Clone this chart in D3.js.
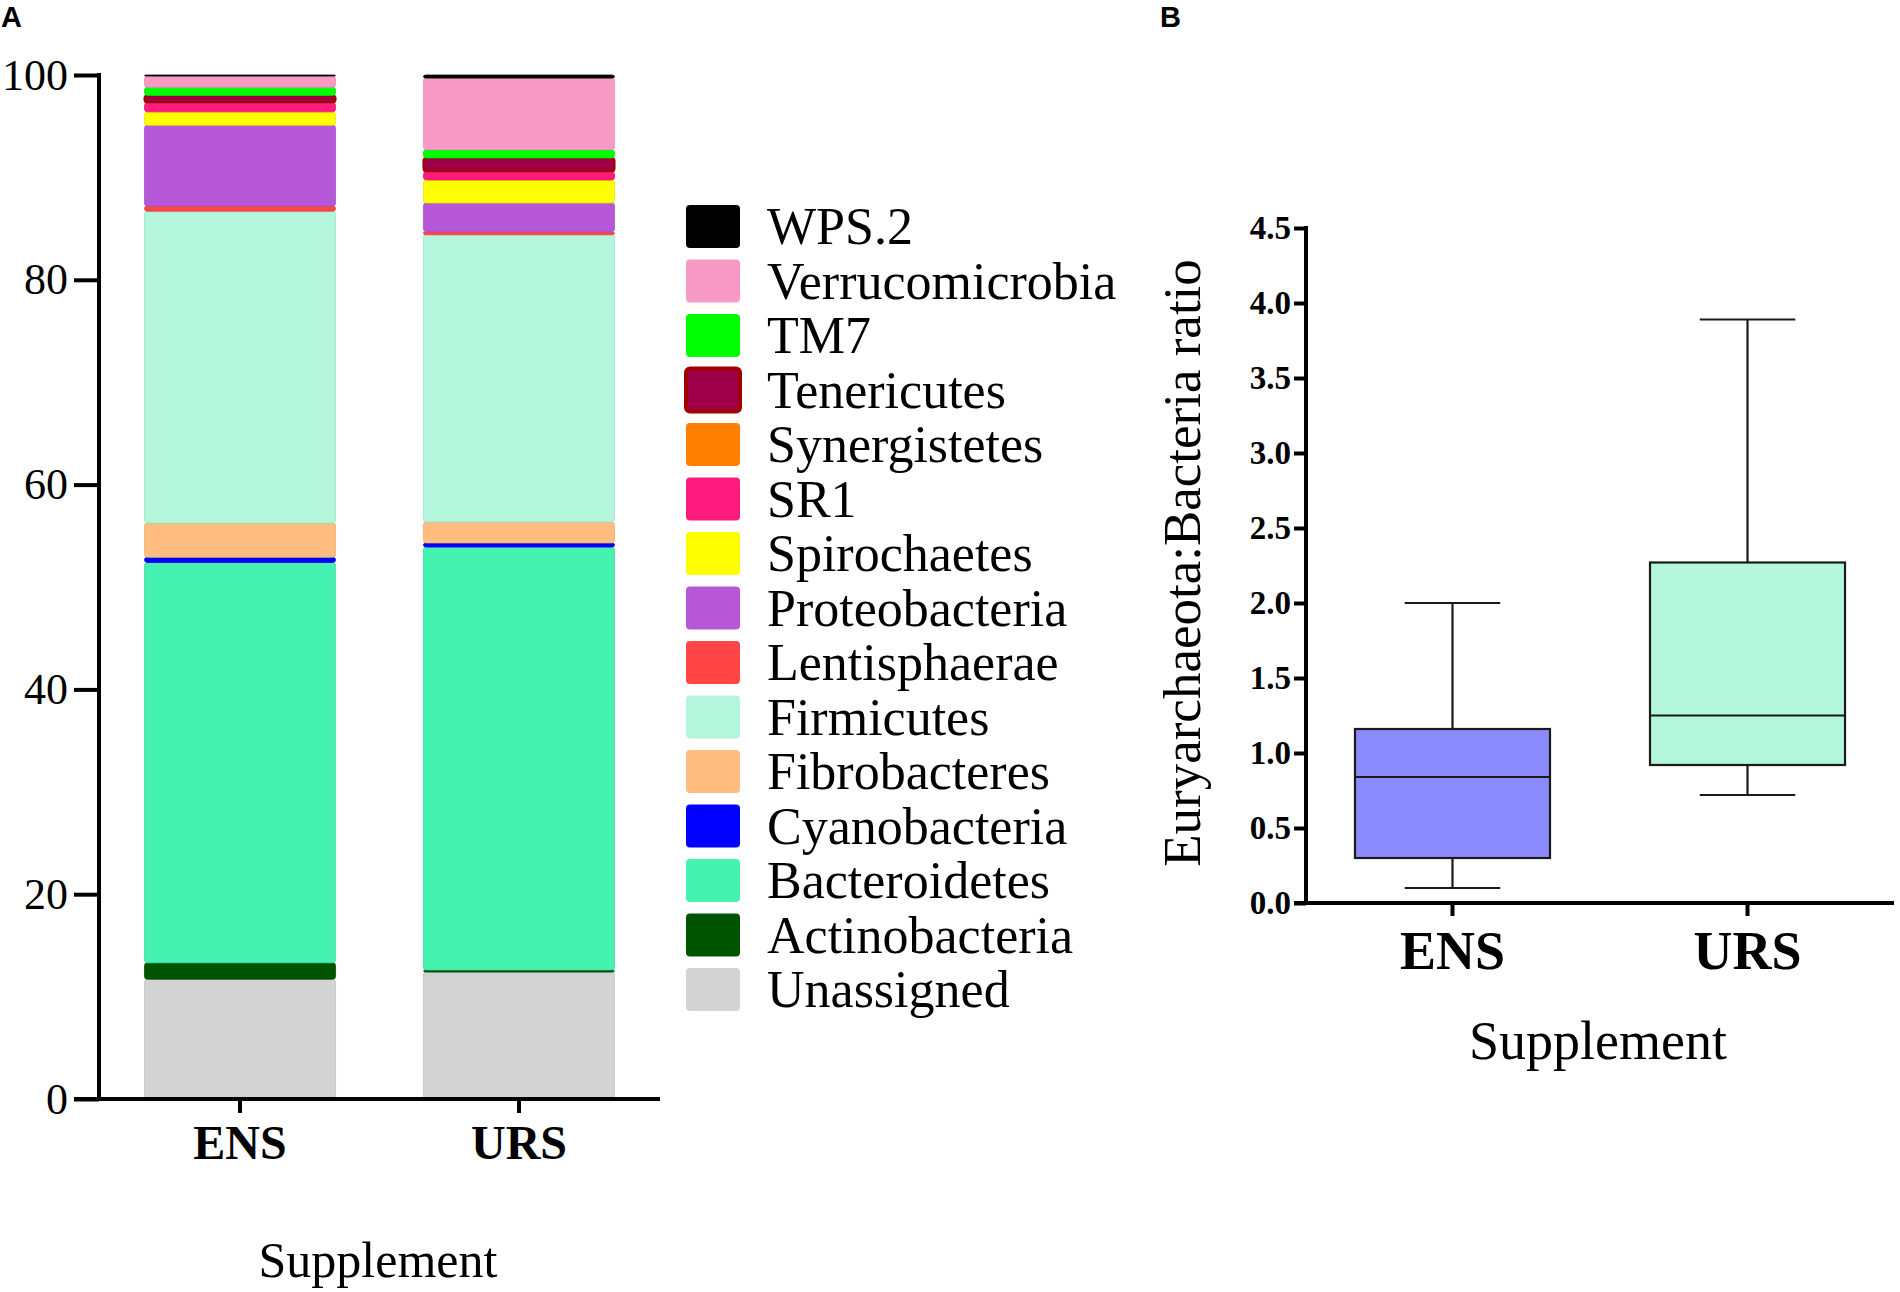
<!DOCTYPE html>
<html>
<head>
<meta charset="utf-8">
<script src="https://cdn.jsdelivr.net/npm/d3@7.9.0/dist/d3.min.js"></script>
<style>
  body { margin: 0; background: #fff; }
  svg { display: block; }
</style>
</head>
<body>
<svg id="chart" width="1900" height="1292"></svg>
<script>
// panel A: stacked relative abundance (stack order, bottom to top)
const phyla = ['Unassigned', 'Actinobacteria', 'Bacteroidetes', 'Cyanobacteria', 'Fibrobacteres',
  'Firmicutes', 'Lentisphaerae', 'Proteobacteria', 'Spirochaetes', 'SR1', 'Synergistetes',
  'Tenericutes', 'TM7', 'Verrucomicrobia', 'WPS.2'];
const phylumColors = ['#d3d3d3', '#005400', '#45f2b0', '#0000ff', '#ffbe80',
  '#b3f6dc', '#ff4545', '#b657d7', '#ffff00', '#ff1a7d', '#ff8000',
  '#9e0048', '#00ff00', '#f89ac6', '#000000'];
const supplements = ['ENS', 'URS'];
const ensValues = [11.7, 1.6, 39.1, 0.5, 3.35, 30.45, 0.5, 7.9, 1.3, 0.9, 0.05, 0.65, 0.8, 1.1, 0.1];
const ursValues = [12.4, 0.2, 41.3, 0.4, 2.05, 28.05, 0.3, 2.8, 2.25, 0.8, 0.05, 1.3, 0.8, 7.0, 0.3];
const abundanceTicks = [0, 20, 40, 60, 80, 100];

// panel B: Euryarchaeota:Bacteria ratio box plots
const boxGroups = ['ENS', 'URS'];
const whiskerLow = [0.10, 0.72];
const q1 = [0.30, 0.92];
const median = [0.84, 1.25];
const q3 = [1.16, 2.27];
const whiskerHigh = [2.0, 3.89];
const boxColors = ['#8b8bfd', '#b3f6dc'];
const ratioTicks = [0, 0.5, 1, 1.5, 2, 2.5, 3, 3.5, 4, 4.5];

const svg = d3.select('#chart');
const serif = '"Liberation Serif", "Times New Roman", serif';

// panel letters
svg.append('text').attr('x', 1).attr('y', 27).text('A')
  .style('font-family', '"Liberation Sans", Arial, sans-serif').style('font-weight', 'bold').style('font-size', '29px');
svg.append('text').attr('x', 1160).attr('y', 27).text('B')
  .style('font-family', '"Liberation Sans", Arial, sans-serif').style('font-weight', 'bold').style('font-size', '29px');

// ---------- panel A ----------
const yA = d3.scaleLinear().domain([0, 100]).range([1099, 75]);
const xA = d3.scaleBand().domain(supplements).range([99, 660]).paddingInner(0.315).paddingOuter(0.163);

const rows = supplements.map((s, i) => {
  const row = { supplement: s };
  const vals = i === 0 ? ensValues : ursValues;
  phyla.forEach((p, j) => { row[p] = vals[j]; });
  return row;
});
const series = d3.stack().keys(phyla)(rows);
const colorOf = d3.scaleOrdinal().domain(phyla).range(phylumColors);

const gA = svg.append('g');
series.forEach(s => {
  gA.append('g').selectAll('rect')
    .data(s)
    .join('rect')
    .attr('x', d => xA(d.data.supplement))
    .attr('width', xA.bandwidth())
    .attr('y', d => yA(d[1]))
    .attr('height', d => Math.max(0, yA(d[0]) - yA(d[1])))
    .attr('rx', 3)
    .attr('fill', colorOf(s.key))
    .attr('stroke', s.key === 'Tenericutes' ? '#a00000' : d3.color(colorOf(s.key)).darker(0.25))
    .attr('stroke-width', s.key === 'Tenericutes' ? 2 : 0.8);
});

const axisA = gA.append('g').attr('transform', 'translate(99,0)')
  .call(d3.axisLeft(yA).tickValues(abundanceTicks).tickSize(25).tickPadding(6).tickFormat(d3.format('d')));
axisA.select('.domain').remove();
axisA.selectAll('.tick line').attr('stroke', '#000').attr('stroke-width', 4);
axisA.selectAll('.tick text').style('font-family', serif).style('font-size', '44px').attr('fill', '#000');
gA.append('line').attr('x1', 99).attr('x2', 99).attr('y1', yA(100) - 2).attr('y2', yA(0))
  .attr('stroke', '#000').attr('stroke-width', 4);
gA.append('line').attr('x1', 74).attr('x2', 660).attr('y1', yA(0)).attr('y2', yA(0))
  .attr('stroke', '#000').attr('stroke-width', 4);

const xAxisA = gA.append('g').attr('transform', `translate(0,${yA(0)})`)
  .call(d3.axisBottom(xA).tickSize(14).tickSizeOuter(0));
xAxisA.select('.domain').remove();
xAxisA.selectAll('.tick line').attr('stroke', '#000').attr('stroke-width', 4);
xAxisA.selectAll('.tick text').attr('dy', null).attr('y', 60)
  .style('font-family', serif).style('font-size', '48px').style('font-weight', 'bold').attr('fill', '#000');

gA.append('text').attr('x', 378).attr('y', 1277).attr('text-anchor', 'middle')
  .style('font-family', serif).style('font-size', '50px').text('Supplement');

// legend (top to bottom is reverse stack order)
const legendItems = phyla.slice().reverse();
const legend = svg.append('g').attr('transform', 'translate(686,205)');
legendItems.forEach((p, i) => {
  const row = legend.append('g').attr('transform', `translate(0,${i * 54.5})`);
  row.append('rect').attr('width', 54).attr('height', 43).attr('rx', 4)
    .attr('fill', colorOf(p))
    .attr('stroke', p === 'Tenericutes' ? '#a00000' : 'none')
    .attr('stroke-width', p === 'Tenericutes' ? 4 : 0);
  row.append('text').attr('x', 81).attr('y', 39)
    .style('font-family', serif).style('font-size', '52px').text(p);
});

// ---------- panel B ----------
const yB = d3.scaleLinear().domain([0, 4.5]).range([903, 228]);
const xB = d3.scaleBand().domain(boxGroups).range([1306, 1894]).paddingInner(0.339).paddingOuter(0.166);
const gB = svg.append('g');

boxGroups.forEach((g, i) => {
  const cx = xB(g) + xB.bandwidth() / 2;
  const capHalf = xB.bandwidth() * 0.245;
  const box = gB.append('g').attr('stroke', '#1a1a1a').attr('stroke-width', 2.2);
  box.append('line').attr('x1', cx).attr('x2', cx).attr('y1', yB(whiskerHigh[i])).attr('y2', yB(q3[i]));
  box.append('line').attr('x1', cx).attr('x2', cx).attr('y1', yB(q1[i])).attr('y2', yB(whiskerLow[i]));
  box.append('line').attr('x1', cx - capHalf).attr('x2', cx + capHalf).attr('y1', yB(whiskerHigh[i])).attr('y2', yB(whiskerHigh[i]));
  box.append('line').attr('x1', cx - capHalf).attr('x2', cx + capHalf).attr('y1', yB(whiskerLow[i])).attr('y2', yB(whiskerLow[i]));
  box.append('rect').attr('x', xB(g)).attr('width', xB.bandwidth())
    .attr('y', yB(q3[i])).attr('height', yB(q1[i]) - yB(q3[i]))
    .attr('fill', boxColors[i]);
  box.append('line').attr('x1', xB(g)).attr('x2', xB(g) + xB.bandwidth())
    .attr('y1', yB(median[i])).attr('y2', yB(median[i]));
});

const axisB = gB.append('g').attr('transform', 'translate(1306,0)')
  .call(d3.axisLeft(yB).tickValues(ratioTicks).tickSize(12).tickPadding(3).tickFormat(d3.format('.1f')));
axisB.select('.domain').remove();
axisB.selectAll('.tick line').attr('stroke', '#000').attr('stroke-width', 4);
axisB.selectAll('.tick text').style('font-family', serif).style('font-size', '33px')
  .style('font-weight', 'bold').attr('fill', '#000');
gB.append('line').attr('x1', 1306).attr('x2', 1306).attr('y1', yB(4.5) - 2).attr('y2', yB(0))
  .attr('stroke', '#000').attr('stroke-width', 4);
gB.append('line').attr('x1', 1294).attr('x2', 1894).attr('y1', yB(0)).attr('y2', yB(0))
  .attr('stroke', '#000').attr('stroke-width', 4);

const xAxisB = gB.append('g').attr('transform', `translate(0,${yB(0)})`)
  .call(d3.axisBottom(xB).tickSize(13).tickSizeOuter(0));
xAxisB.select('.domain').remove();
xAxisB.selectAll('.tick line').attr('stroke', '#000').attr('stroke-width', 4);
xAxisB.selectAll('.tick text').attr('dy', null).attr('y', 66)
  .style('font-family', serif).style('font-size', '54px').style('font-weight', 'bold').attr('fill', '#000');

gB.append('text').attr('x', 1598).attr('y', 1059).attr('text-anchor', 'middle')
  .style('font-family', serif).style('font-size', '54px').text('Supplement');
gB.append('text').attr('transform', 'translate(1200,563) rotate(-90)').attr('text-anchor', 'middle')
  .style('font-family', serif).style('font-size', '53px').text('Euryarchaeota:Bacteria ratio');
</script>
</body>
</html>
